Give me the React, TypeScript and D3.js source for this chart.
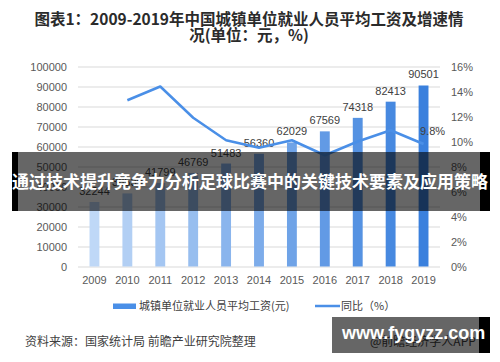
import * as d3 from "d3";
import { useEffect, useRef } from "react";

// data
const years = ["2009", "2010", "2011", "2012", "2013", "2014", "2015", "2016", "2017", "2018", "2019"];
const wages = [32244, 36539, 41799, 46769, 51483, 56360, 62029, 67569, 74318, 82413, 90501];
const growth: (number | null)[] = [null, 13.3, 14.4, 11.9, 10.1, 9.5, 10.1, 8.9, 10.0, 10.9, 9.8];
const leftTicks = [0, 10000, 20000, 30000, 40000, 50000, 60000, 70000, 80000, 90000, 100000];
const rightTicks = [0, 2, 4, 6, 8, 10, 12, 14, 16];
const titleLines = ["图表1：2009-2019年中国城镇单位就业人员平均工资及增速情", "况(单位：元，%)"];
const legendLabels = ["城镇单位就业人员平均工资(元)", "同比（%）"];
const sourceText = "资料来源：国家统计局 前瞻产业研究院整理";
const appText = "@前瞻经济学人APP";
const bannerText = "通过技术提升竞争力分析足球比赛中的关键技术要素及应用策略";
const siteText = "www.fygyzz.com";

const W = 500;
const H = 362;
const FONT = "'Liberation Sans', Arial, 'Noto Sans CJK SC', sans-serif";
const CJK = "'Noto Sans CJK SC', 'Liberation Sans', sans-serif";

const Chart = () => {
  const svgRef = useRef<SVGSVGElement>(null);

  useEffect(() => {
    const svgEl = d3.select(svgRef.current);
    svgEl.selectAll("*").remove();
    const svg = svgEl.append("g");

    const left = 78;
    const right = 440;
    const top = 66.5;
    const bottom = 266.5;

    //SCALES
    const x = d3.scaleBand().domain(years).range([left, right]).paddingInner(0.7).paddingOuter(0.35);
    const y = d3.scaleLinear().domain([0, 100000]).range([bottom, top]);
    const y2 = d3.scaleLinear().domain([0, 16]).range([bottom, top]);
    const barColor = d3
      .scaleLinear<string>()
      .domain([0, years.length - 1])
      .range(["#bfd8f7", "#3a80dd"])
      .interpolate(d3.interpolateRgb);

    //TITLE
    svg
      .selectAll("text.title")
      .data(titleLines)
      .enter()
      .append("text")
      .attr("x", 249)
      .attr("y", (d, i) => 25 + i * 16)
      .attr("text-anchor", "middle")
      .attr("font-family", CJK)
      .attr("font-weight", "bold")
      .attr("font-size", 15.5)
      .attr("fill", "#2b2b2b")
      .text((d) => d);

    //GRID + LEFT AXIS
    const yAxis = d3
      .axisLeft(y)
      .tickValues(leftTicks)
      .tickSize(-(right - left))
      .tickPadding(11)
      .tickFormat((d) => String(d));
    const gy = svg.append("g").attr("transform", `translate(${left},0)`).call(yAxis);
    gy.select(".domain").remove();
    gy.selectAll(".tick line").attr("stroke", "#d9d9d9").attr("stroke-width", 1);
    gy.selectAll(".tick text").attr("font-family", FONT).attr("font-size", 11).attr("fill", "#595959");

    //RIGHT AXIS
    const yAxis2 = d3
      .axisRight(y2)
      .tickValues(rightTicks)
      .tickSize(0)
      .tickPadding(11)
      .tickFormat((d) => `${d}%`);
    const gy2 = svg.append("g").attr("transform", `translate(${right},0)`).call(yAxis2);
    gy2.select(".domain").remove();
    gy2.selectAll(".tick text").attr("font-family", FONT).attr("font-size", 11).attr("fill", "#595959");

    //X AXIS
    const xAxis = d3.axisBottom(x).tickSize(0).tickPadding(10);
    const gx = svg.append("g").attr("transform", `translate(0,${bottom})`).call(xAxis);
    gx.select(".domain").remove();
    gx.selectAll(".tick text").attr("font-family", FONT).attr("font-size", 11).attr("fill", "#595959");

    //BARS
    svg
      .selectAll("rect.bar")
      .data(wages)
      .enter()
      .append("rect")
      .attr("x", (d, i) => x(years[i])!)
      .attr("y", (d) => y(d))
      .attr("width", x.bandwidth())
      .attr("height", (d) => bottom - y(d))
      .attr("fill", (d, i) => barColor(i));

    svg
      .selectAll("text.barlabel")
      .data(wages)
      .enter()
      .append("text")
      .attr("x", (d, i) => x(years[i])! + x.bandwidth() / 2)
      .attr("y", (d) => y(d) - 7)
      .attr("text-anchor", "middle")
      .attr("font-family", FONT)
      .attr("font-size", 11)
      .attr("fill", "#404040")
      .text((d) => d);

    //LINE
    const pts = growth
      .map((g, i) => ({ year: years[i], g }))
      .filter((p) => p.g !== null) as { year: string; g: number }[];
    const line = d3
      .line<{ year: string; g: number }>()
      .x((d) => x(d.year)! + x.bandwidth() / 2)
      .y((d) => y2(d.g));
    svg
      .append("path")
      .datum(pts)
      .attr("d", line)
      .attr("fill", "none")
      .attr("stroke", "#4a8fe7")
      .attr("stroke-width", 2.5)
      .attr("stroke-linejoin", "round");

    const last = pts[pts.length - 1];
    svg
      .append("text")
      .attr("x", x(last.year)! + x.bandwidth() / 2 + 9)
      .attr("y", y2(last.g) - 9)
      .attr("text-anchor", "middle")
      .attr("font-family", FONT)
      .attr("font-size", 11)
      .attr("fill", "#404040")
      .text(`${last.g}%`);

    //LEGEND
    svg.append("rect").attr("x", 113).attr("y", 303.5).attr("width", 23).attr("height", 5.5).attr("fill", "#4a8fe7");
    svg.append("line").attr("x1", 315).attr("x2", 340).attr("y1", 306).attr("y2", 306).attr("stroke", "#4a8fe7").attr("stroke-width", 2.5);
    svg
      .selectAll("text.legend")
      .data(legendLabels)
      .enter()
      .append("text")
      .attr("x", (d, i) => (i === 0 ? 139 : 341))
      .attr("y", 310)
      .attr("font-family", CJK)
      .attr("font-size", 11)
      .attr("fill", "#404040")
      .text((d) => d);

    //SOURCE
    svg.append("text").attr("x", 25).attr("y", 346).attr("font-family", CJK).attr("font-size", 12).attr("fill", "#404040").text(sourceText);
    svg.append("text").attr("x", 370).attr("y", 346).attr("font-family", CJK).attr("font-size", 12).attr("fill", "#404040").text(appText);

    //OVERLAY BANNER
    svg.append("rect").attr("x", 12).attr("y", 152).attr("width", 6).attr("height", 59).attr("fill", "#000");
    svg.append("rect").attr("x", 480).attr("y", 152).attr("width", 10).attr("height", 59).attr("fill", "#000");
    svg.append("rect").attr("x", 18).attr("y", 152).attr("width", 462).attr("height", 59).attr("fill", "rgba(0,0,0,0.6)");
    svg
      .append("text")
      .attr("x", 250)
      .attr("y", 188)
      .attr("text-anchor", "middle")
      .attr("font-family", CJK)
      .attr("font-weight", "bold")
      .attr("font-size", 17)
      .attr("fill", "#fff")
      .text(bannerText);

    //SITE BOX
    svg.append("rect").attr("x", 479).attr("y", 317).attr("width", 11).attr("height", 36).attr("fill", "#000");
    svg.append("rect").attr("x", 332).attr("y", 317).attr("width", 147).attr("height", 36).attr("fill", "rgba(0,0,0,0.6)");
    svg
      .append("text")
      .attr("x", 342)
      .attr("y", 339)
      .attr("font-family", FONT)
      .attr("font-weight", "bold")
      .attr("font-size", 18)
      .attr("fill", "#fff")
      .text(siteText);
  }, []);

  return <svg ref={svgRef} width={W} height={H} style={{ position: "absolute", left: 0, top: 0, background: "#fff" }} />;
};

export default function App() {
  return <Chart />;
}
